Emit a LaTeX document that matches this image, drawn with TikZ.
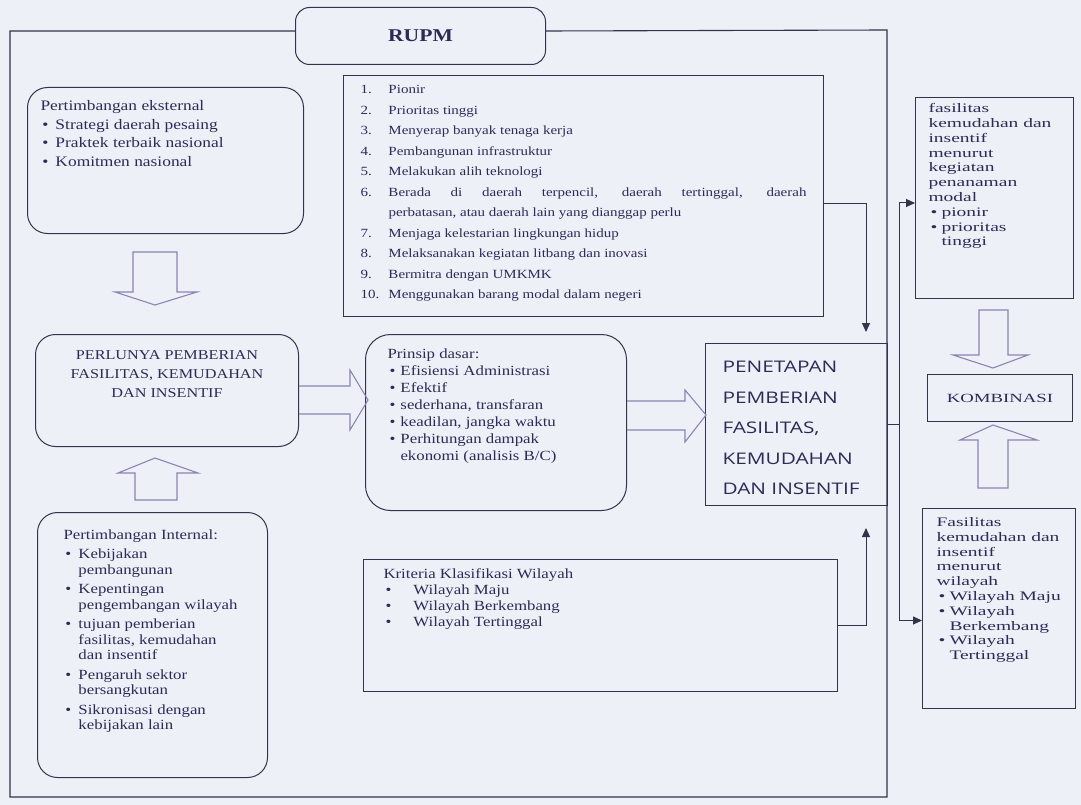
\documentclass[tikz,border=0pt]{standalone}
\usepackage{fontspec}
\setmainfont{Liberation Serif}[FakeStretch=1.2]
\newfontfamily\widefont{Liberation Serif}[FakeStretch=1.5]
\newfontfamily\capsfont{Open Sans}[FakeStretch=1.3]
\usepackage{xcolor}
\usetikzlibrary{arrows.meta, positioning, calc}

\definecolor{paper}{HTML}{EEF0F8}
\definecolor{ink}{HTML}{2E2A58}
\definecolor{rule}{HTML}{33334A}
\definecolor{hollowc}{HTML}{8C84B4}

% top aligned text block inside a box
\newcommand{\panel}[3]{\begin{minipage}[t][#2][t]{#1}#3\end{minipage}}
\newcommand{\itm}[2]{\par\hangindent=#1\hangafter=1\noindent\makebox[#1][l]{\hspace{2pt}\textbullet}#2}
\newcommand{\nitm}[2]{\par\hangindent=28pt\hangafter=1\noindent\makebox[28pt][l]{#1}#2}

\begin{document}
\begin{tikzpicture}[x=1pt, y=-1pt,
    panel/.style={draw=rule, line width=1pt, anchor=north west, text=ink},
    rpanel/.style={panel, rounded corners=20pt},
    frame/.style={draw=rule, line width=1.1pt},
    link/.style={draw=rule, line width=1pt},
    arr/.style={link, -{Triangle[length=9pt,width=8pt]}},
    hollow/.style={draw=hollowc, line width=1.1pt}
]
\fill[paper] (0,0) rectangle (1081,805);
\useasboundingbox (0,0) rectangle (1081,805);

% title
\node[panel, rounded corners=14pt, minimum width=250pt, minimum height=57pt,
  font=\fontsize{18}{20}\selectfont\bfseries] (rupm) at (295,7) {RUPM};
\draw[frame] ([yshift=5pt]rupm.west) -| (10,797) -| (887,30) -- ([yshift=5pt]rupm.east);

% left column
\node[rpanel, inner xsep=13pt, inner ysep=13pt, font=\fontsize{14.5}{18.5}\selectfont] (ext) at (27,87)
  {\panel{250pt}{120pt}{\raggedright Pertimbangan eksternal
   \itm{15pt}{Strategi daerah pesaing}
   \itm{15pt}{Praktek terbaik nasional}
   \itm{15pt}{Komitmen nasional}}};

\node[rpanel, inner xsep=12pt, inner ysep=16pt, font=\fontsize{13.5}{19}\selectfont] (perl) at (35,334)
  {\panel{239pt}{80pt}{\centering PERLUNYA PEMBERIAN\\ FASILITAS, KEMUDAHAN\\ DAN INSENTIF}};

\node[rpanel, inner xsep=10pt, inner ysep=17pt, font=\fontsize{14}{15.5}\selectfont] (int) at (37,512)
  {\panel{210pt}{231pt}{\raggedright\leftskip=16pt\setlength{\parskip}{4pt}Pertimbangan Internal:
   \itm{15pt}{Kebijakan\newline pembangunan}
   \itm{15pt}{Kepentingan\newline pengembangan wilayah}
   \itm{15pt}{tujuan pemberian\newline fasilitas, kemudahan\newline dan insentif}
   \itm{15pt}{Pengaruh sektor\newline bersangkutan}
   \itm{15pt}{Sikronisasi dengan\newline kebijakan lain}}};

% middle column
\node[panel, inner xsep=17pt, inner ysep=10pt, font=\fontsize{12.5}{20.5}\selectfont] (list) at (343,75)
  {\panel{446pt}{221pt}{\nitm{1.}{Pionir}
   \nitm{2.}{Prioritas tinggi}
   \nitm{3.}{Menyerap banyak tenaga kerja}
   \nitm{4.}{Pembangunan infrastruktur}
   \nitm{5.}{Melakukan alih teknologi}
   \nitm{6.}{Berada di daerah terpencil, daerah tertinggal, daerah\linebreak perbatasan, atau daerah lain yang dianggap perlu}
   \nitm{7.}{Menjaga kelestarian lingkungan hidup}
   \nitm{8.}{Melaksanakan kegiatan litbang dan inovasi}
   \nitm{9.}{Bermitra dengan UMKMK}
   \nitm{10.}{Menggunakan barang modal dalam negeri}}};

\node[panel, rounded corners=25pt, inner xsep=22pt, inner ysep=14pt, font=\fontsize{14}{17}\selectfont] (prin) at (365,334)
  {\panel{217pt}{148pt}{\raggedright Prinsip dasar:
   \itm{13pt}{Efisiensi Administrasi}
   \itm{13pt}{Efektif}
   \itm{13pt}{sederhana, transfaran}
   \itm{13pt}{keadilan, jangka waktu}
   \itm{13pt}{Perhitungan dampak\newline ekonomi (analisis B/C)}}};

\node[panel, inner xsep=20pt, inner ysep=9pt, font=\fontsize{14}{16}\selectfont] (krit) at (363,559)
  {\panel{434pt}{114pt}{\raggedright Kriteria Klasifikasi Wilayah
   \itm{30pt}{Wilayah Maju}
   \itm{30pt}{Wilayah Berkembang}
   \itm{30pt}{Wilayah Tertinggal}}};

\node[panel, inner xsep=17pt, inner ysep=18pt, font=\capsfont\fontsize{16}{30.5}\selectfont] (pen) at (705,343)
  {\panel{148pt}{126pt}{\raggedright PENETAPAN\\ PEMBERIAN\\ FASILITAS,\\ KEMUDAHAN\\ DAN INSENTIF}};

% right column
\node[panel, inner xsep=13pt, inner ysep=6pt, font=\widefont\fontsize{13}{14.8}\selectfont] (fas) at (915,97)
  {\panel{132pt}{189pt}{\raggedright fasilitas\newline kemudahan dan\newline insentif\newline menurut\newline kegiatan\newline penanaman\newline modal
   \itm{13pt}{pionir}
   \itm{13pt}{prioritas\newline tinggi}}};

\node[panel, minimum width=145pt, minimum height=47pt, font=\widefont\fontsize{12.5}{14}\selectfont] (komb) at (927,374) {KOMBINASI};

\node[panel, inner xsep=14pt, inner ysep=9pt, font=\widefont\fontsize{13}{14.8}\selectfont] (wil) at (922,508)
  {\panel{125pt}{182pt}{\raggedright Fasilitas\newline kemudahan dan\newline insentif menurut\newline wilayah
   \itm{13pt}{Wilayah Maju}
   \itm{13pt}{Wilayah\newline Berkembang}
   \itm{13pt}{Wilayah\newline Tertinggal}}};

% hollow block arrows
\draw[hollow] (133,252) -- (177,252) -- (177,292) -- (197,292) -- (155,305) -- (115,292) -- (133,292) -- cycle;
\draw[hollow] (155,458) -- (198,473) -- (177,473) -- (177,500) -- (135,500) -- (135,473) -- (118,473) -- cycle;
\draw[hollow] (perl.east |- 0,386) -- (350,386) -- (350,370) -- (368,400) -- (350,430) -- (350,414) -- (perl.east |- 0,414);
\draw[hollow] (prin.east |- 0,401) -- (685,401) -- (685,390) -- (706,415) -- (685,442) -- (685,430) -- (prin.east |- 0,430);
\draw[hollow] (979,310) -- (1008,310) -- (1008,355) -- (1028,355) -- (993,368) -- (953,355) -- (979,355) -- cycle;
\draw[hollow] (993,425) -- (1037,440) -- (1008,440) -- (1008,488) -- (978,488) -- (978,440) -- (960,440) -- cycle;

% connectors
\draw[arr] ([yshift=-8pt]list.east) -| ([xshift=-22pt,yshift=11pt]pen.north east);
\draw[arr] (krit.east) -| ([xshift=-22pt,yshift=-22pt]pen.south east);
\draw[link] (pen.east) -- ++(11,0) coordinate (bus);
\draw[arr] (bus) |- ([yshift=-5pt]fas.west);
\draw[arr] (bus) |- ([yshift=-12pt]wil.west);
\end{tikzpicture}
\end{document}
